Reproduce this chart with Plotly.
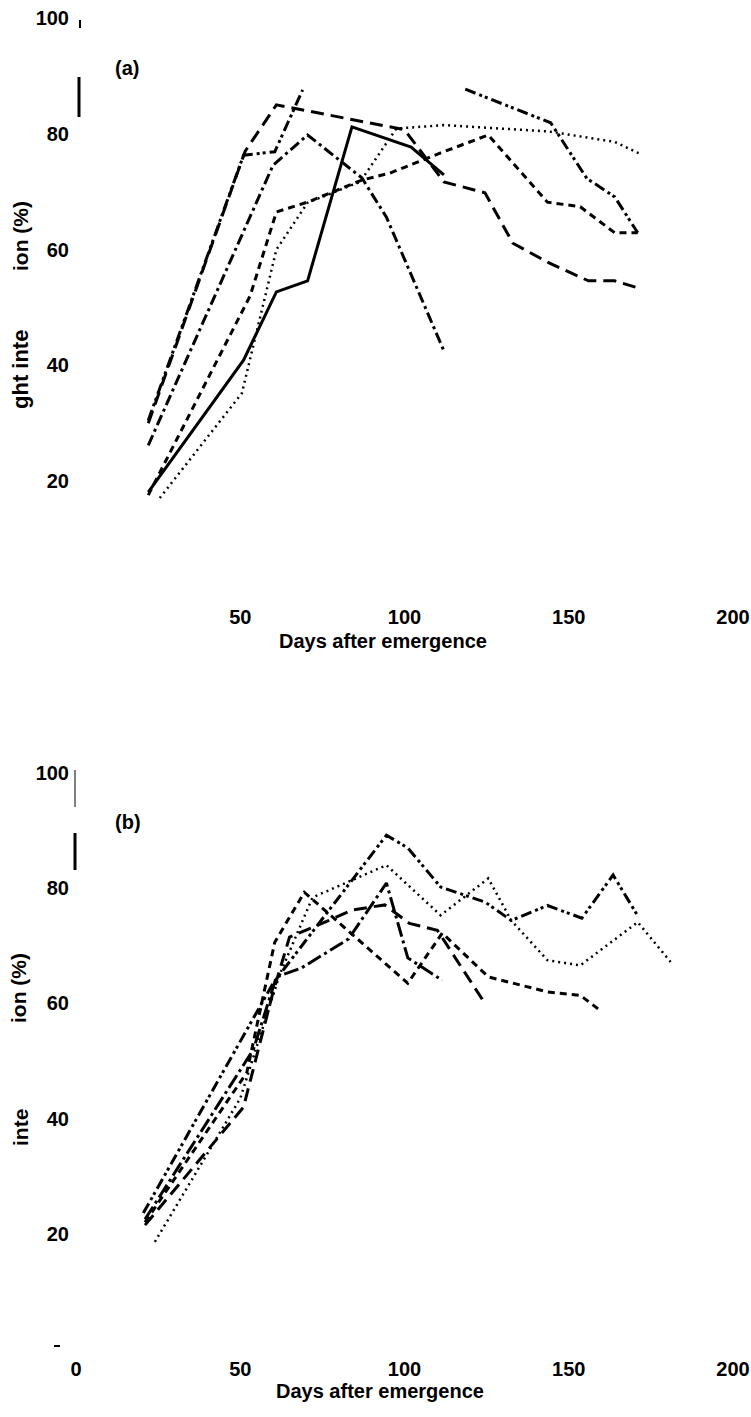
import plotly.graph_objects as go

W, H = 751, 1417

# ---------------- data: panel (a) ----------------
a_solid_x = [22, 51, 61, 70.5, 84, 102, 112]
a_solid_y = [18.1, 40.9, 52.7, 54.6, 81.2, 77.7, 72.9]

a_longdash_x = [22, 51.5, 61, 100, 112, 124.5, 133, 144, 156, 164, 171]
a_longdash_y = [30.0, 77.0, 85.0, 80.7, 71.7, 69.8, 61.1, 57.7, 54.6, 54.6, 53.4]

a_dashdot_x = [22, 60, 70.5, 87, 94.5, 112]
a_dashdot_y = [26.2, 74.6, 79.8, 72.4, 65.6, 42.5]

a_dashdotdot_x = [22, 51, 60.5, 69, None, 118.5, 144.5, 155.5, 164, 171]
a_dashdotdot_y = [30.5, 76.3, 76.9, 87.6, None, 87.7, 81.9, 72.3, 69.1, 62.9]

a_shortdash_x = [22, 53, 61, 70.5, 87, 95.5, 111, 125.5, 143.5, 153.5, 164, 171]
a_shortdash_y = [17.6, 52, 66.5, 68.2, 72.0, 73.2, 76.7, 79.8, 68.2, 67.4, 62.9, 62.9]

a_dotted_x = [25.5, 50.5, 61, 70.5, 86.5, 97.5, 112, 144, 164, 171.5]
a_dotted_y = [17.1, 35.2, 60, 68.1, 71.7, 80.9, 81.5, 80.4, 78.6, 76.6]

# ---------------- data: panel (b) ----------------
b_dashdotdot_x = [20.5, 60, 94.5, 101, 111, 124.5, 132.5, 143.5, 154, 163.5, 171]
b_dashdotdot_y = [23.6, 63.5, 89.2, 87.0, 80.2, 77.6, 74.4, 77.0, 74.8, 82.3, 75.2]

b_dotted_x = [24, 50, 62, 72, 94.5, 111, 125.5, 132.5, 143.5, 153.5, 171, 181]
b_dotted_y = [18.6, 43.5, 65, 78.4, 84.0, 75.3, 81.7, 74.4, 67.5, 66.6, 74.1, 67.2]

b_dashdot_x = [21, 54, 61, 68.5, 83, 94.5, 101, 111.5]
b_dashdot_y = [22.5, 52, 64.6, 66.1, 71.2, 80.9, 67.9, 64.0]

b_longdash_x = [21, 51, 60, 65, 77, 84, 94, 101.5, 110, 124.5]
b_longdash_y = [21.5, 42, 62, 71.5, 74.4, 76.2, 77.1, 73.9, 72.7, 60.0]

b_shortdash_x = [21, 52, 60.5, 69.5, 101, 111.5, 125.5, 143.5, 153.5, 159.5]
b_shortdash_y = [22, 48, 70.6, 79.3, 63.5, 72.2, 64.6, 62.0, 61.4, 58.8]

y_ticks = [20, 40, 60, 80, 100]
xa_ticks = [50, 100, 150, 200]
xb_ticks = [0, 50, 100, 150, 200]
x_title = "Days after emergence"

# ---------------- styles ----------------
SOLID = "solid"
LONGDASH = "13px,7px"
SHORTDASH = "7px,5px"
DOTTED = "2px,4px"
DASHDOT = "11px,4px,3px,4px"
DASHDOT_B = "15px,4px,3px,4px"
DASHDOTDOT = "11px,4px,3px,3px,3px,4px"

fig = go.Figure()

def add(x, y, dash, width, xa, ya):
    fig.add_trace(go.Scatter(x=x, y=y, mode="lines", xaxis=xa, yaxis=ya,
                             line=dict(color="black", width=width, dash=dash),
                             showlegend=False, hoverinfo="skip"))

add(a_solid_x, a_solid_y, SOLID, 3, "x", "y")
add(a_longdash_x, a_longdash_y, LONGDASH, 3, "x", "y")
add(a_dashdot_x, a_dashdot_y, DASHDOT, 3, "x", "y")
add(a_dashdotdot_x, a_dashdotdot_y, DASHDOTDOT, 3, "x", "y")
add(a_shortdash_x, a_shortdash_y, SHORTDASH, 3, "x", "y")
add(a_dotted_x, a_dotted_y, DOTTED, 2.5, "x", "y")

add(b_dashdotdot_x, b_dashdotdot_y, DASHDOTDOT, 3, "x2", "y2")
add(b_dotted_x, b_dotted_y, DOTTED, 2.5, "x2", "y2")
add(b_dashdot_x, b_dashdot_y, DASHDOT_B, 3, "x2", "y2")
add(b_longdash_x, b_longdash_y, LONGDASH, 3, "x2", "y2")
add(b_shortdash_x, b_shortdash_y, SHORTDASH, 3, "x2", "y2")

FAMILY = "Liberation Sans, Arial, sans-serif"
FONT = dict(family=FAMILY, size=20, color="black", weight="bold")

def px(xp):
    return xp / W

def py(yp):
    return 1 - yp / H

xdom = [px(76), px(733)]
common_x = dict(range=[0, 200], showgrid=False, zeroline=False, showline=False,
                ticks="", tickfont=FONT, ticklabelstandoff=6, domain=xdom,
                automargin=False, fixedrange=True)
common_y = dict(range=[0, 100], showgrid=False, zeroline=False, showline=False,
                ticks="", tickfont=FONT, ticklabelstandoff=6, tickvals=y_ticks,
                automargin=False, fixedrange=True)

fig.update_layout(
    template="none",
    width=W, height=H, autosize=False,
    margin=dict(l=0, r=0, t=0, b=0, pad=0),
    paper_bgcolor="white", plot_bgcolor="white",
    xaxis=dict(**common_x, anchor="y", tickvals=xa_ticks),
    yaxis=dict(**common_y, anchor="x", domain=[py(597), py(18)]),
    xaxis2=dict(**common_x, anchor="y2", tickvals=xb_ticks),
    yaxis2=dict(**common_y, anchor="x2", domain=[py(1349), py(773)]),
)

ann = []
def text(t, xp, yp, size=20, angle=0):
    ann.append(dict(text=t, x=px(xp), y=py(yp), xref="paper", yref="paper",
                    xanchor="center", yanchor="middle", showarrow=False,
                    textangle=angle,
                    font=dict(family=FAMILY, size=size, color="black", weight="bold")))

text("(a)", 127, 68)
text("(b)", 128, 822)
text(x_title, 383, 641)
text(x_title, 380, 1391)
text("ion (%)", 20, 236, size=21, angle=-90)
text("ght inte", 20, 370, size=22, angle=-90)
text("ion (%)", 18, 988, size=21, angle=-90)
text("inte", 20, 1128, size=21, angle=-90)
fig.update_layout(annotations=ann)

shapes = []
def seg(x0, y0, x1, y1, w):
    shapes.append(dict(type="line", xref="paper", yref="paper",
                       x0=px(x0), y0=py(y0), x1=px(x1), y1=py(y1),
                       line=dict(color="black", width=w)))

# remaining fragments of the scanned axes
seg(79, 77, 79, 117, 3)
seg(80, 20, 80, 28, 2)
seg(75, 770, 75, 807, 1)
seg(75, 833, 75, 870, 3)
seg(54, 1346, 60, 1346, 2)
fig.update_layout(shapes=shapes)

fig.write_html("out.html", config={"responsive": False, "displayModeBar": False},
               post_script="document.body.style.margin='0';document.body.style.overflow='hidden';")
